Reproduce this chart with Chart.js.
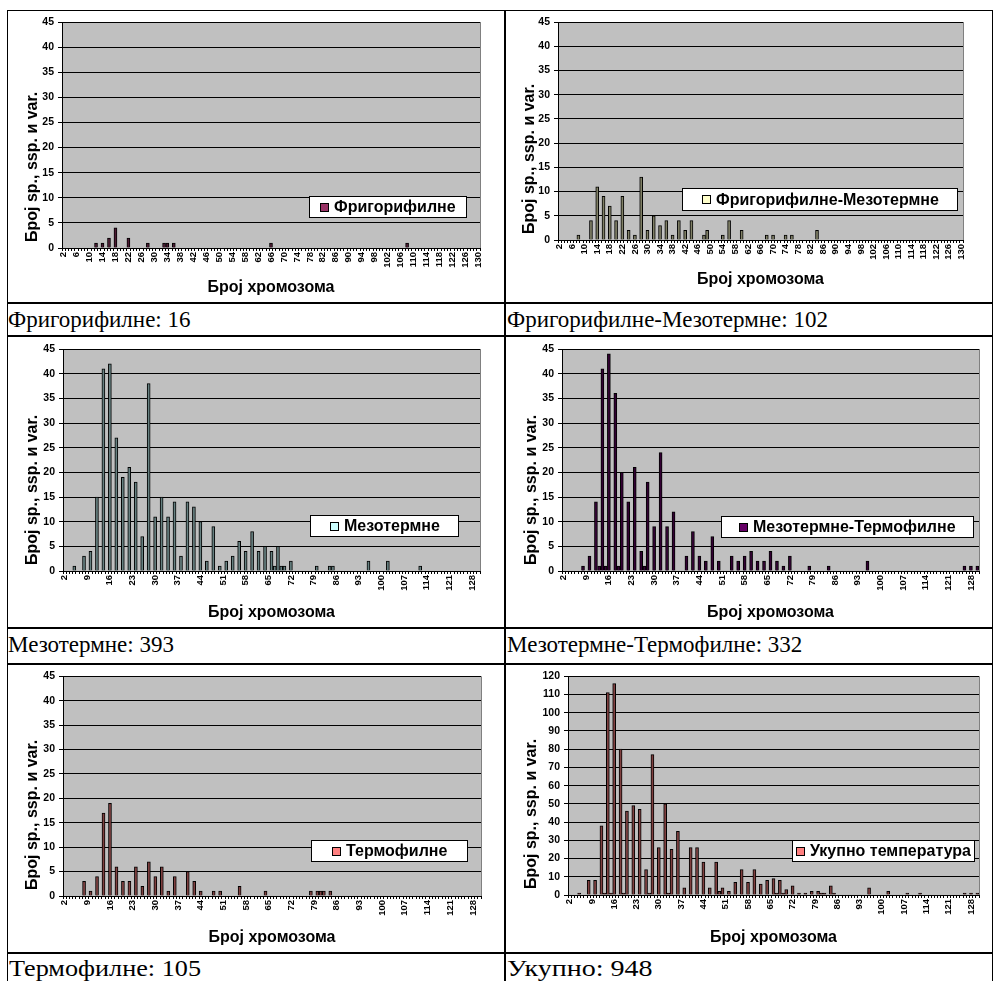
<!DOCTYPE html>
<html>
<head>
<meta charset="utf-8">
<script src="https://cdn.jsdelivr.net/npm/chart.js@4.4.0/dist/chart.umd.min.js"></script>
<style>
body { margin: 0; background: #fff; }
#page { position: relative; width: 995px; height: 981px; overflow: hidden; }
canvas { position: absolute; display: block; }
.line { position: absolute; background: #000; }
.caption { position: absolute; font-family: 'Liberation Serif', 'Times New Roman', serif; font-size: 23px; white-space: nowrap; line-height: 1; transform-origin: 0 0; }
</style>
</head>
<body>
<div id="page">
  <canvas id="c1" width="496" height="291" style="left:8px;top:11px"></canvas>
  <canvas id="c2" width="484" height="291" style="left:507px;top:11px"></canvas>
  <canvas id="c3" width="496" height="289" style="left:8px;top:338px"></canvas>
  <canvas id="c4" width="484" height="289" style="left:507px;top:338px"></canvas>
  <canvas id="c5" width="496" height="285" style="left:8px;top:666px"></canvas>
  <canvas id="c6" width="484" height="285" style="left:507px;top:666px"></canvas>

  <div class="caption" style="left:8px;top:308px">Фригорифилне: 16</div>
  <div class="caption" style="left:507px;top:308px">Фригорифилне-Мезотермне: 102</div>
  <div class="caption" style="left:8px;top:633px">Мезотермне: 393</div>
  <div class="caption" style="left:507px;top:633px">Мезотермне-Термофилне: 332</div>
  <div class="caption" style="left:9px;top:957px;transform:scaleX(1.14)">Термофилне: 105</div>
  <div class="caption" style="left:507px;top:957px;transform:scaleX(1.22)">Укупно: 948</div>

  <div class="line" style="left:7px;top:10px;width:986px;height:1px"></div>
  <div class="line" style="left:7px;top:302px;width:986px;height:2px"></div>
  <div class="line" style="left:7px;top:335px;width:986px;height:2px"></div>
  <div class="line" style="left:7px;top:627px;width:986px;height:2px"></div>
  <div class="line" style="left:7px;top:663px;width:986px;height:2px"></div>
  <div class="line" style="left:7px;top:952px;width:986px;height:2px"></div>
  <div class="line" style="left:7px;top:10px;width:1px;height:971px"></div>
  <div class="line" style="left:504px;top:10px;width:2px;height:971px"></div>
  <div class="line" style="left:992px;top:10px;width:1px;height:971px"></div>
</div>
<script>
// categories: chromosome numbers 2..130
const chromosomes = [];
for (let n = 2; n <= 130; n++) chromosomes.push(n);

const ticksEvery4 = [2, 6, 10, 14, 18, 22, 26, 30, 34, 38, 42, 46, 50, 54, 58, 62, 66, 70, 74, 78, 82, 86, 90, 94, 98, 102, 106, 110, 114, 118, 122, 126, 130];
const ticksEvery7 = [2, 9, 16, 23, 30, 37, 44, 51, 58, 65, 72, 79, 86, 93, 100, 107, 114, 121, 128];

// series: chromosome number -> count of sp., ssp. and var.
const frigChrom = [12, 14, 16, 18, 22, 28, 33, 34, 36, 66, 108];
const frigCount = [1, 1, 2, 4, 2, 1, 1, 1, 1, 1, 1];

const frigMesoChrom = [8, 12, 14, 16, 18, 20, 22, 24, 26, 28, 30, 32, 34, 36, 38, 40, 42, 44, 48, 49, 54, 56, 60, 68, 70, 74, 76, 84];
const frigMesoCount = [1, 4, 11, 9, 7, 4, 9, 2, 1, 13, 2, 5, 3, 4, 1, 4, 2, 4, 1, 2, 1, 4, 2, 1, 1, 1, 1, 2];

const mesoChrom = [5, 8, 10, 12, 14, 16, 18, 20, 22, 24, 26, 28, 30, 32, 34, 36, 38, 40, 42, 44, 46, 48, 50, 52, 54, 56, 58, 60, 62, 64, 66, 67, 68, 69, 70, 72, 80, 84, 85, 96, 102, 112];
const mesoCount = [1, 3, 4, 15, 41, 42, 27, 19, 21, 18, 7, 38, 11, 15, 11, 14, 3, 14, 13, 10, 2, 9, 1, 2, 3, 6, 4, 8, 4, 5, 4, 1, 5, 1, 1, 2, 1, 1, 1, 2, 2, 1];

const mesoThermoChrom = [8, 10, 12, 13, 14, 15, 16, 18, 19, 20, 22, 24, 26, 27, 28, 30, 32, 34, 36, 40, 42, 44, 46, 48, 50, 54, 56, 58, 60, 62, 64, 66, 68, 70, 72, 78, 84, 96, 126, 128, 130];
const mesoThermoCount = [1, 3, 14, 1, 41, 1, 44, 36, 1, 20, 14, 21, 4, 1, 18, 9, 24, 9, 12, 3, 8, 3, 2, 7, 2, 3, 2, 3, 4, 2, 2, 4, 2, 1, 3, 1, 1, 2, 1, 1, 1];

const thermoChrom = [8, 10, 12, 14, 16, 18, 20, 22, 24, 26, 28, 30, 32, 34, 36, 40, 42, 44, 48, 50, 56, 64, 78, 80, 81, 82, 84];
const thermoCount = [3, 1, 4, 17, 19, 6, 3, 3, 6, 2, 7, 4, 6, 1, 4, 5, 3, 1, 1, 1, 2, 1, 1, 1, 1, 1, 1];

const totalChrom = [5, 8, 10, 12, 13, 14, 15, 16, 18, 19, 20, 22, 24, 26, 27, 28, 30, 32, 33, 34, 36, 38, 40, 42, 44, 46, 48, 49, 50, 52, 54, 56, 58, 60, 62, 64, 66, 67, 68, 69, 70, 72, 74, 76, 78, 80, 81, 82, 84, 85, 96, 102, 108, 112, 126, 128, 130];
const totalCount = [1, 8, 8, 38, 1, 111, 1, 116, 80, 1, 46, 49, 47, 14, 1, 77, 26, 50, 1, 25, 35, 4, 26, 26, 18, 4, 18, 2, 4, 2, 7, 14, 7, 14, 6, 8, 9, 1, 8, 1, 3, 5, 1, 1, 2, 2, 1, 1, 5, 1, 4, 2, 1, 1, 1, 1, 1];

const yTitle = 'Број sp., ssp. и var.';
const xTitle = 'Број хромозома';

Chart.defaults.font.family = "'Liberation Sans', Arial, sans-serif";
Chart.defaults.color = '#000';

const toSeries = (chrom, count) => {
    return chromosomes.map((n) => {
        const i = chrom.indexOf(n);
        return i === -1 ? null : count[i];
    });
}

// thin bars read darker than their legend swatch, mix the fill with black
const shade = (hex, k) => {
    const v = parseInt(hex.slice(1), 16);
    const r = Math.round(((v >> 16) & 255) * k);
    const g = Math.round(((v >> 8) & 255) * k);
    const b = Math.round((v & 255) * k);
    return 'rgb(' + r + ',' + g + ',' + b + ')';
}

const plotDecor = {
    id: 'plotDecor',
    beforeDraw(chart, args, opts) {
        const {ctx, chartArea: a} = chart;
        ctx.save();
        ctx.fillStyle = '#c0c0c0';
        ctx.fillRect(a.left, a.top, a.right - a.left, a.bottom - a.top);
        ctx.restore();
    },
    beforeDatasetsDraw(chart) {
        const {ctx, chartArea: a} = chart;
        ctx.save();
        ctx.strokeStyle = '#808080';
        ctx.lineWidth = 1;
        ctx.beginPath();
        ctx.moveTo(Math.round(a.right) + 0.5, a.top);
        ctx.lineTo(Math.round(a.right) + 0.5, a.bottom);
        ctx.stroke();
        ctx.restore();
    },
    afterDraw(chart, args, opts) {
        const {ctx, chartArea: a} = chart;
        ctx.save();
        // rotated y-axis title
        ctx.font = "bold 16px 'Liberation Sans', Arial, sans-serif";
        ctx.fillStyle = '#000';
        ctx.textAlign = 'left';
        ctx.textBaseline = 'middle';
        ctx.translate(opts.yTitleX, a.bottom - opts.yTitleLift);
        ctx.rotate(-Math.PI / 2);
        ctx.fillText(opts.yTitle, 0, 0);
        ctx.restore();

        // legend box
        const lg = opts.legend;
        const label = chart.data.datasets[0].label;
        ctx.save();
        ctx.fillStyle = '#fff';
        ctx.fillRect(lg.x, lg.y, lg.w, lg.h);
        ctx.strokeStyle = '#000';
        ctx.lineWidth = 1;
        ctx.strokeRect(lg.x + 0.5, lg.y + 0.5, lg.w - 1, lg.h - 1);
        ctx.font = "bold 16px 'Liberation Sans', Arial, sans-serif";
        const tw = ctx.measureText(label).width;
        const box = 9, gap = 5;
        const gx = Math.round(lg.x + (lg.w - box - gap - tw) / 2);
        const cy = lg.y + lg.h / 2;
        const by = Math.round(cy - box / 2);
        ctx.fillStyle = opts.swatch;
        ctx.fillRect(gx, by, box, box);
        ctx.strokeRect(gx + 0.5, by + 0.5, box - 1, box - 1);
        ctx.fillStyle = '#000';
        ctx.textBaseline = 'middle';
        ctx.fillText(label, gx + box + gap, cy + 1);
        ctx.restore();
    }
};

const panels = [
    {id: 'c1', label: 'Фригорифилне', chrom: frigChrom, count: frigCount, color: '#993366',
     yMax: 45, yStep: 5, tickList: ticksEvery4, area: {l: 54, r: 472, t: 11, b: 237}, xTitleY: 277, yTitleX: 25,
     legend: {x: 301, y: 185, w: 158, h: 22}},
    {id: 'c2', label: 'Фригорифилне-Мезотермне', chrom: frigMesoChrom, count: frigMesoCount, color: '#ffffcc',
     yMax: 45, yStep: 5, tickList: ticksEvery4, area: {l: 51, r: 456, t: 11, b: 229}, xTitleY: 269, yTitleX: 23,
     legend: {x: 175, y: 177, w: 276, h: 23}},
    {id: 'c3', label: 'Мезотермне', chrom: mesoChrom, count: mesoCount, color: '#ccffff',
     yMax: 45, yStep: 5, tickList: ticksEvery7, area: {l: 55, r: 472, t: 11, b: 233}, xTitleY: 275, yTitleX: 25,
     legend: {x: 302, y: 177, w: 149, h: 22}},
    {id: 'c4', label: 'Мезотермне-Термофилне', chrom: mesoThermoChrom, count: mesoThermoCount, color: '#660066',
     yMax: 45, yStep: 5, tickList: ticksEvery7, area: {l: 55, r: 472, t: 11, b: 233}, xTitleY: 275, yTitleX: 25,
     legend: {x: 214, y: 178, w: 253, h: 22}},
    {id: 'c5', label: 'Термофилне', chrom: thermoChrom, count: thermoCount, color: '#ff8080',
     yMax: 45, yStep: 5, tickList: ticksEvery7, area: {l: 55, r: 473, t: 7, b: 230}, xTitleY: 272, yTitleX: 25,
     legend: {x: 303, y: 174, w: 157, h: 22}},
    {id: 'c6', label: 'Укупно температура', chrom: totalChrom, count: totalCount, color: '#ff8080',
     yMax: 120, yStep: 10, tickList: ticksEvery7, area: {l: 61, r: 472, t: 7, b: 229}, xTitleY: 272, yTitleX: 25,
     legend: {x: 285, y: 174, w: 183, h: 22}}
];

panels.forEach((p) => {
    const canvas = document.getElementById(p.id);
    const W = canvas.width, H = canvas.height;
    new Chart(canvas, {
        type: 'bar',
        data: {
            labels: chromosomes,
            datasets: [{
                label: p.label,
                data: toSeries(p.chrom, p.count),
                backgroundColor: shade(p.color, 0.5),
                borderColor: '#000',
                borderWidth: 1,
                barThickness: 3
            }]
        },
        options: {
            responsive: false,
            animation: false,
            layout: {padding: {left: 0, top: p.area.t, right: W - p.area.r, bottom: 0}},
            plugins: {
                legend: {display: false},
                tooltip: {enabled: false},
                plotDecor: {yTitle: yTitle, yTitleX: p.yTitleX, yTitleLift: 6, legend: p.legend, swatch: p.color}
            },
            scales: {
                x: {
                    afterFit: (scale) => { scale.height = H - p.area.b; },
                    grid: {display: true, drawOnChartArea: false, drawTicks: true, tickLength: 3, color: '#000', offset: true},
                    border: {display: true, color: '#000'},
                    ticks: {
                        autoSkip: false, minRotation: 90, maxRotation: 90, padding: 1,
                        font: {size: 9.5, weight: 'bold'},
                        callback: (val, idx) => p.tickList.includes(chromosomes[idx]) ? String(chromosomes[idx]) : ''
                    },
                    title: {display: true, text: xTitle, font: {size: 16, weight: 'bold'},
                            padding: {top: 0, bottom: H - 9.6 - p.xTitleY}}
                },
                y: {
                    min: 0, max: p.yMax,
                    afterFit: (scale) => { scale.width = p.area.l; },
                    grid: {color: '#000', tickLength: 4},
                    border: {display: true, color: '#000'},
                    ticks: {stepSize: p.yStep, padding: 4, font: {size: 10.5, weight: 'bold'}}
                }
            }
        },
        plugins: [plotDecor]
    });
});
</script>
</body>
</html>
